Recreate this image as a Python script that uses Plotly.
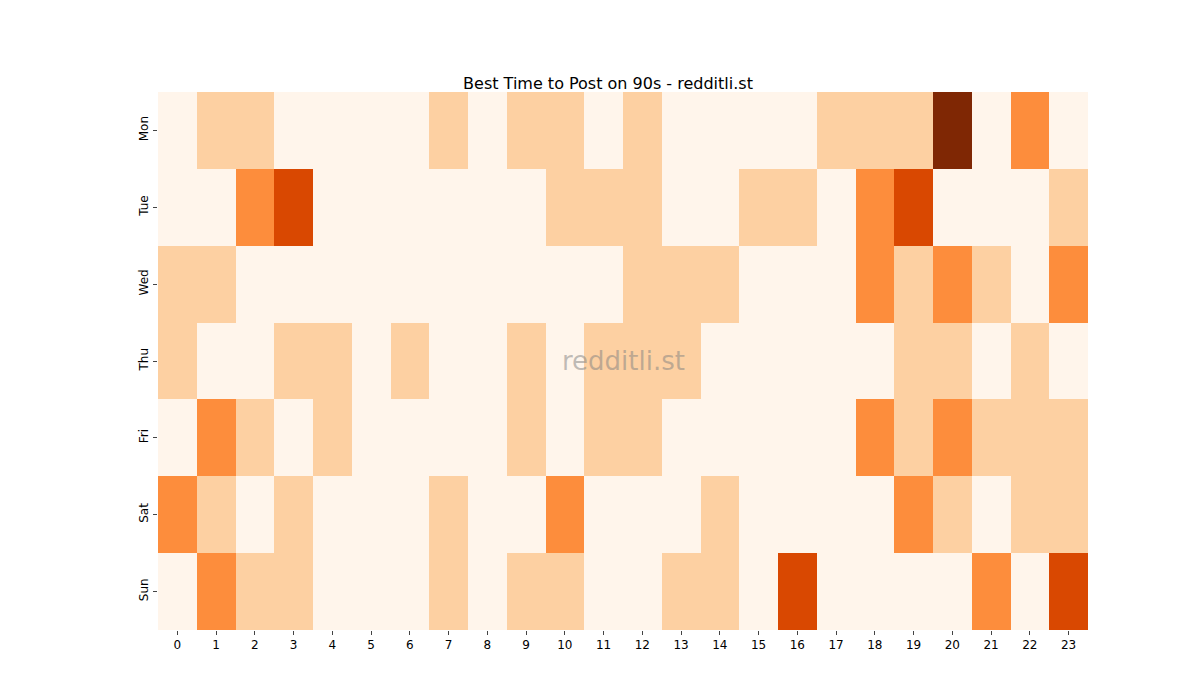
import plotly.graph_objects as go

days = ["Mon", "Tue", "Wed", "Thu", "Fri", "Sat", "Sun"]
hours = list(range(24))
mon = [0,1,1,0,0,0,0,1,0,1,1,0,1,0,0,0,0,1,1,1,4,0,2,0]
tue = [0,0,2,3,0,0,0,0,0,0,1,1,1,0,0,1,1,0,2,3,0,0,0,1]
wed = [1,1,0,0,0,0,0,0,0,0,0,0,1,1,1,0,0,0,2,1,2,1,0,2]
thu = [1,0,0,1,1,0,1,0,0,1,0,1,1,1,0,0,0,0,0,1,1,0,1,0]
fri = [0,2,1,0,1,0,0,0,0,1,0,1,1,0,0,0,0,0,2,1,2,1,1,1]
sat = [2,1,0,1,0,0,0,1,0,0,2,0,0,0,1,0,0,0,0,2,1,0,1,1]
sun = [0,2,1,1,0,0,0,1,0,1,1,0,0,1,1,0,3,0,0,0,0,2,0,3]
z = [mon, tue, wed, thu, fri, sat, sun]

colorscale = [[0, "#fff5eb"], [0.25, "#fdd0a2"], [0.5, "#fd8d3c"], [0.75, "#d94801"], [1, "#7f2704"]]

fig = go.Figure(go.Heatmap(z=z, x=hours, y=days, colorscale=colorscale, zmin=0, zmax=4,
                           showscale=False, xgap=0, ygap=0))
fig.update_layout(
    width=1200, height=700, plot_bgcolor="white", paper_bgcolor="white",
    margin=dict(l=150, r=120, t=84, b=78),
    title=dict(text="Best Time to Post on 90s - redditli.st", x=0.5, xanchor="center", y=0.9,
               font=dict(family="DejaVu Sans", size=16, color="black")),
    font=dict(family="DejaVu Sans", size=12, color="black"),
    xaxis=dict(tickmode="array", tickvals=hours, ticks="outside", ticklen=4, showgrid=False, zeroline=False),
    yaxis=dict(autorange="reversed", ticks="outside", ticklen=4, tickangle=-90, showgrid=False, zeroline=False),
    annotations=[dict(text="redditli.st", x=0.5, y=0.5, xref="paper", yref="paper", showarrow=False,
                      font=dict(size=26, color="rgba(128,128,128,0.5)", family="DejaVu Sans"))],
)
fig.write_html("out.html")
